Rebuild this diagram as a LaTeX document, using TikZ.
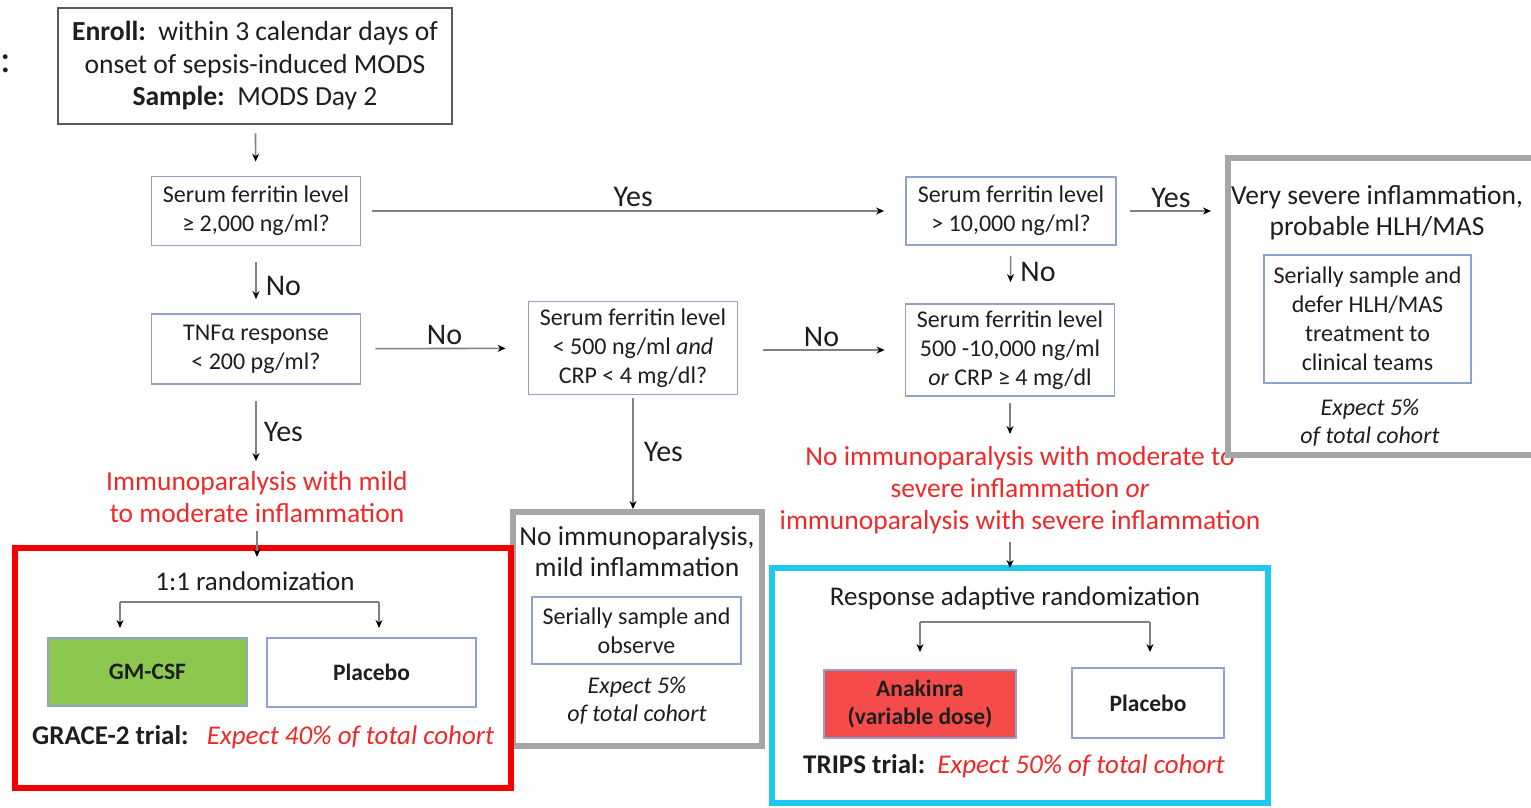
\documentclass[tikz,border=0pt]{standalone}
\usepackage{fontspec}
\setmainfont{Carlito}
\usetikzlibrary{arrows.meta, positioning}
\definecolor{boxblue}{RGB}{143,163,204}
\definecolor{linegray}{RGB}{128,128,128}
\definecolor{framegray}{RGB}{166,166,166}
\definecolor{enrollgray}{RGB}{89,89,89}
\definecolor{txtdark}{RGB}{30,30,30}
\definecolor{txtred}{RGB}{240,40,40}
\definecolor{framered}{RGB}{245,0,0}
\definecolor{framecyan}{RGB}{30,200,240}
\definecolor{gmgreen}{RGB}{140,200,80}
\definecolor{anared}{RGB}{245,75,75}

\begin{document}
\begin{tikzpicture}[x=1pt, y=-1pt,
    qbox/.style = {draw=boxblue, line width=1.8pt, fill=white, align=center,
                   inner sep=0pt, text=txtdark, font=\fontsize{24}{29}\selectfont},
    outframe/.style = {draw=#1, line width=6pt, fill=white},
    title/.style = {align=center, inner sep=0pt, text=txtdark, font=\fontsize{27.5}{31}\selectfont},
    note/.style = {align=center, inner sep=0pt, text=txtdark, font=\fontsize{24}{28}\selectfont\itshape},
    redtxt/.style = {align=center, inner sep=0pt, text=txtred, font=\fontsize{27.5}{32}\selectfont},
    lbl/.style = {inner sep=2pt, text=txtdark, font=\fontsize{30}{32}\selectfont},
    arr/.style = {draw=linegray, line width=1.6pt, -{Stealth[length=8pt, width=7pt, color=black]}},
    conn/.style = {draw=linegray, line width=1.6pt}
  ]
  \useasboundingbox (0,0) rectangle (1531,807);
  \clip (0,0) rectangle (1531,807);

  % top: enrolment and the first decision
  \node[lbl, font=\fontsize{40}{40}\selectfont] (colon) at (6,64) {:};
  \node[draw=enrollgray, line width=2.5pt, align=center, inner sep=0pt, text=txtdark,
        font=\fontsize{27.6}{32.5}\selectfont, minimum width=394pt, minimum height=116pt]
        (enroll) at (255,66)
        {\textbf{Enroll:}\ \ within 3 calendar days of\\ onset of sepsis-induced MODS\\ \textbf{Sample:}\ \ MODS Day 2};

  % decision boxes, centres (in px)
  \node[qbox, minimum width=209pt, minimum height=69pt] (q1) at (256,211)
        {Serum ferritin level\\ ≥ 2,000 ng/ml?};
  \node[qbox, minimum width=210pt, minimum height=68pt] (q2) at (1011,211)
        {Serum ferritin level\\ > 10,000 ng/ml?};
  \node[qbox, minimum width=209pt, minimum height=70pt] (q3) at (256,349)
        {TNFα response\\ < 200 pg/ml?};
  \node[qbox, minimum width=209pt, minimum height=93pt] (q4) at (633,348)
        {Serum ferritin level\\ < 500 ng/ml \textit{and}\\ CRP < 4 mg/dl?};
  \node[qbox, minimum width=209pt, minimum height=92pt] (q5) at (1010,350)
        {Serum ferritin level\\ 500 -10,000 ng/ml\\ \textit{or} CRP ≥ 4 mg/dl};

  % outcome texts in red
  \node[redtxt] (imm1) at (257,497)
        {Immunoparalysis with mild\\ to moderate inflammation};
  \node[redtxt] (imm2) at (1020,490)
        {No immunoparalysis with moderate to\\ severe inflammation \textit{or}\\ immunoparalysis with severe inflammation};

  % very severe group (cut at the right edge)
  \node[outframe=framegray, minimum width=312pt, minimum height=297pt] (hlh) at (1384,306.5) {};
  \node[title] (hlhttl) at (1377,213) {Very severe inflammation,\\ probable HLH/MAS};
  \node[qbox, minimum width=207pt, minimum height=128pt] (hlhbox) at (1367.5,319)
        {Serially sample and\\ defer HLH/MAS\\ treatment to\\ clinical teams};
  \node[note] (hlhexp) at (1370,423) {Expect 5\%\\ of total cohort};

  % mild group
  \node[outframe=framegray, minimum width=249pt, minimum height=234pt] (mid) at (637.5,629) {};
  \node[title] (midttl) at (637,552) {No immunoparalysis,\\ mild inflammation};
  \node[qbox, minimum width=209pt, minimum height=67pt] (midbox) at (636.5,630.5)
        {Serially sample and\\ observe};
  \node[note] (midexp) at (637,701) {Expect 5\%\\ of total cohort};

  % GRACE-2 trial
  \node[outframe=framered, minimum width=496pt, minimum height=240pt] (grace) at (263,668) {};
  \node[title, font=\fontsize{27}{30}\selectfont] (rnd1) at (255,581) {1:1 randomization};
  \node[qbox, fill=gmgreen, minimum width=199pt, minimum height=68pt,
        font=\fontsize{23.5}{28}\selectfont\bfseries] (gmcsf) at (147.5,672) {GM-CSF};
  \node[qbox, minimum width=209pt, minimum height=69pt,
        font=\fontsize{23.5}{28}\selectfont\bfseries] (plac1) at (371.5,672.5) {Placebo};
  \node[anchor=west, inner sep=0pt, text=txtdark, font=\fontsize{27}{30}\selectfont]
        (gracelbl) at (32,737)
        {\textbf{GRACE-2 trial:}\ \ \ {\color{txtred}\itshape Expect 40\% of total cohort}};
  \coordinate (brL1) at (120,602);
  \coordinate (brR1) at (379,602);

  % TRIPS trial
  \node[outframe=framecyan, minimum width=496pt, minimum height=235pt] (trips) at (1020,685.5) {};
  \node[title, font=\fontsize{27}{30}\selectfont] (rnd2) at (1015,598) {Response adaptive randomization};
  \node[qbox, fill=anared, minimum width=192pt, minimum height=68pt,
        font=\fontsize{23.5}{28}\selectfont\bfseries] (anak) at (920,704) {Anakinra\\ (variable dose)};
  \node[qbox, minimum width=152pt, minimum height=70pt,
        font=\fontsize{23.5}{28}\selectfont\bfseries] (plac2) at (1148,703) {Placebo};
  \node[anchor=west, inner sep=0pt, text=txtdark, font=\fontsize{27}{30}\selectfont]
        (tripslbl) at (803,766)
        {\textbf{TRIPS trial:}\ \ {\color{txtred}\itshape Expect 50\% of total cohort}};
  \coordinate (brL2) at (920,622);
  \coordinate (brR2) at (1150,622);

  % connectors
  \draw[arr, shorten <=8pt, shorten >=14pt] (enroll) -- (q1);
  \draw[arr, shorten <=11pt, shorten >=21pt] (q1) -- node[lbl, above=1pt] {Yes} (q2);
  \draw[arr, shorten <=13pt, shorten >=14pt] (q2) -- node[lbl, above=0pt] {Yes} (q2 -| hlh.west);
  \draw[arr, shorten <=16pt, shorten >=14pt] (q1) -- node[lbl, right=7pt, pos=0.6] {No} (q3);
  \draw[arr, shorten <=10pt, shorten >=21pt] (q2) -- node[lbl, right=7pt, pos=0.45] {No} (q5);
  \draw[arr, shorten <=14pt, shorten >=22pt] (q3) -- node[lbl, above=1pt] {No} (q4);
  \draw[arr, shorten <=25pt, shorten >=20pt] (q4.east |- q5) -- node[lbl, above=1pt] {No} (q5);
  \draw[arr, shorten <=16pt, shorten >=10pt] (q3) -- node[lbl, right=5pt, pos=0.55] {Yes} (q3 |- imm1.north);
  \draw[arr, shorten <=3pt] (q4) -- node[lbl, right=8pt] {Yes} (q4 |- mid.north);
  \draw[arr, shorten <=6pt, shorten >=12pt] (q5) -- (q5 |- imm2.north);
  \draw[arr, shorten <=8pt, shorten >=-12pt] (imm1.south) -- (imm1 |- grace.north);
  \draw[arr, shorten <=8pt, shorten >=-3pt] (imm2.south -| q5) -- (q5 |- trips.north);

  % randomisation brackets
  \draw[conn] (brL1) -- (brR1);
  \draw[arr] (brL1) -- ++(0,26);
  \draw[arr] (brR1) -- ++(0,26);
  \draw[conn] (brL2) -- (brR2);
  \draw[arr] (brL2) -- ++(0,30);
  \draw[arr] (brR2) -- ++(0,30);
\end{tikzpicture}
\end{document}
